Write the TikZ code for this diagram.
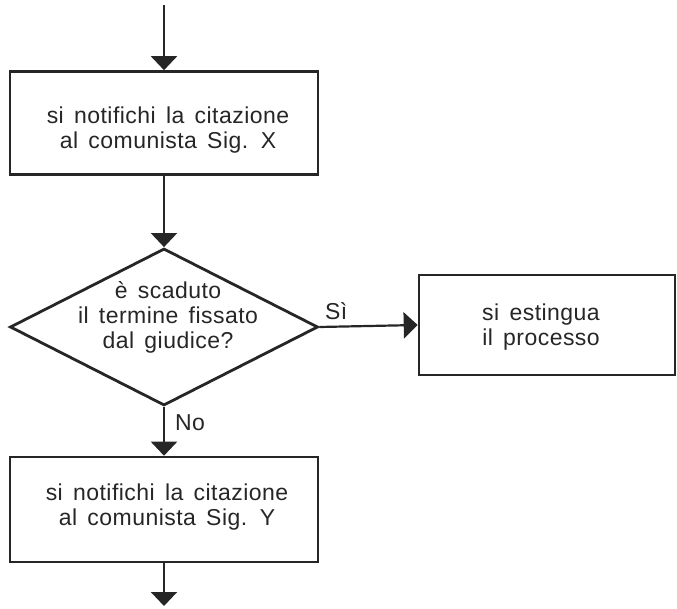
\documentclass[tikz,border=0pt]{standalone}
\usepackage{fontspec}
\setmainfont{Liberation Sans}[WordSpace=1.5,LetterSpace=2]
\usetikzlibrary{shapes.geometric,arrows.meta}
\begin{document}
\begin{tikzpicture}[x=1pt,y=-1pt,
  line/.style={draw=black!85},
  procbox/.style={line, line width=2.6pt, rectangle, inner sep=0pt,
                  minimum width=308pt, minimum height=103pt},
  decbox/.style={line, line width=2.8pt, diamond, inner sep=0pt,
                 minimum width=308pt, minimum height=157pt},
  caption/.style={font=\fontsize{23}{25}\selectfont, align=center,
                  text=black!85, inner sep=0pt},
  flow/.style={line, line width=2.2pt,
               -{Triangle[width=26pt,length=14pt]}}
]
\useasboundingbox (0,0) rectangle (677,609);

% boxes
\node[procbox] (notifyX) at (164,123) {};
\node[decbox]  (deadline) at (164,327) {};
\node[procbox, minimum width=256pt, minimum height=100pt] (extinct) at (547,325) {};
\node[procbox, minimum height=105pt] (notifyY) at (164,509.5) {};

% texts
\node[caption] (notifyXtext) at (168,130) {si notifichi la citazione\\al comunista Sig. X};
\node[caption] (deadlinetext) at (168,317) {è scaduto\\il termine fissato\\dal giudice?};
\node[caption] (extincttext) at (541,327) {si estingua\\il processo};
\node[caption] (notifyYtext) at (167,507) {si notifichi la citazione\\al comunista Sig. Y};

% free ends
\coordinate (entry) at (164,5);
\coordinate (exit) at (164,606);

% connectors
\draw[flow] (entry) -- (notifyX.north);
\draw[flow] (notifyX.south) -- (deadline.north);
\draw[flow] (deadline.east) -- node[caption, above, pos=0.17, yshift=6pt] (yes) {Sì} (extinct.west);
\draw[flow] (deadline.south) -- node[caption, right, pos=0.33, xshift=10pt] (no) {No} (notifyY.north);
\draw[flow] (notifyY.south) -- (exit);
\end{tikzpicture}
\end{document}
